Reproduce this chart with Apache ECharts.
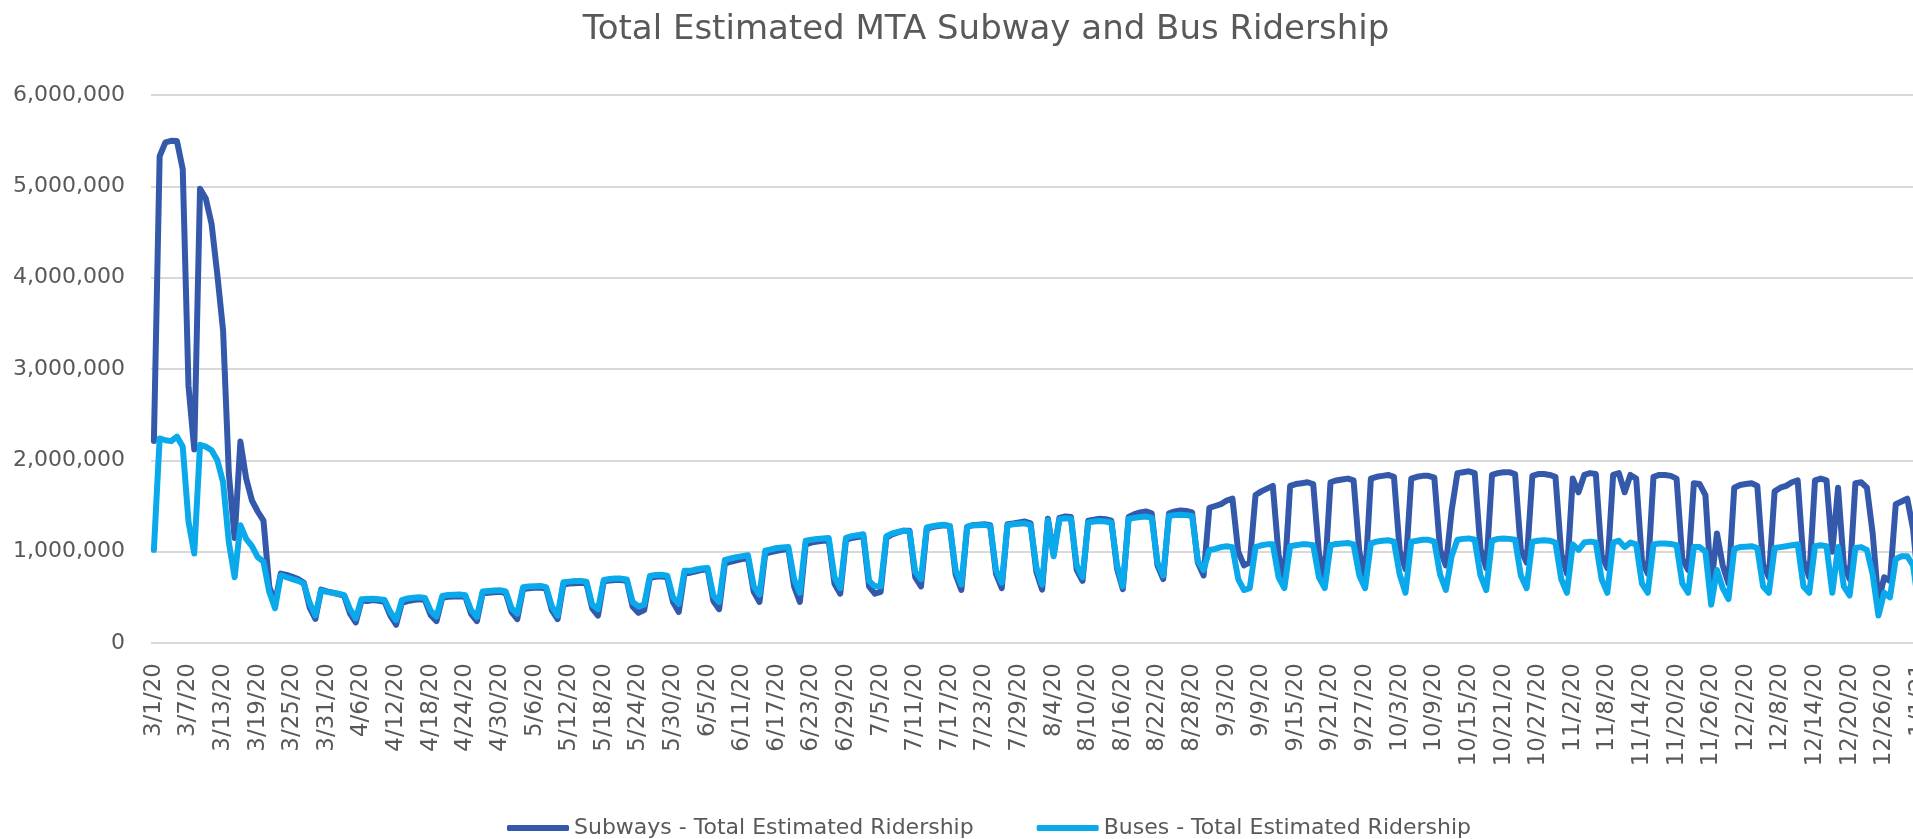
<!DOCTYPE html>
<html>
<head>
<meta charset="utf-8">
<title>Total Estimated MTA Subway and Bus Ridership</title>
<script src="https://cdn.jsdelivr.net/npm/echarts@6/dist/echarts.min.js"></script>
<style>
  html, body { margin: 0; padding: 0; background: #fff; overflow: hidden; }
  #chart { width: 1913px; height: 839px; }
</style>
</head>
<body>
<div id="chart"></div>
<script>
// daily dates from 3/1/20, shown as M/D/YY
const dates = [];
for (let d = new Date(2020, 2, 1); dates.length < 310; d.setDate(d.getDate() + 1)) {
  dates.push((d.getMonth() + 1) + '/' + d.getDate() + '/' + String(d.getFullYear()).slice(2));
}

// one row per week, Sunday .. Saturday
const subways = [
  2212000, 5330000, 5481000, 5498000, 5496000, 5189000, 2815000,
  2120000, 4973000, 4867000, 4588000, 4034000, 3420000, 1850000,
  1150000, 2205000, 1800000, 1560000, 1440000, 1340000, 620000,
  440000, 760000, 745000, 725000, 700000, 660000, 390000,
  265000, 585000, 565000, 550000, 535000, 515000, 325000,
  225000, 465000, 460000, 470000, 462000, 450000, 300000,
  200000, 440000, 458000, 470000, 478000, 470000, 305000,
  240000, 495000, 505000, 510000, 512000, 505000, 320000,
  240000, 545000, 550000, 555000, 560000, 548000, 340000,
  262000, 590000, 600000, 605000, 608000, 595000, 360000,
  262000, 640000, 650000, 655000, 660000, 650000, 380000,
  300000, 675000, 685000, 690000, 690000, 680000, 400000,
  330000, 360000, 715000, 725000, 730000, 720000, 450000,
  340000, 760000, 770000, 785000, 800000, 810000, 460000,
  370000, 870000, 890000, 905000, 920000, 930000, 560000,
  450000, 980000, 995000, 1010000, 1020000, 1030000, 620000,
  450000, 1080000, 1100000, 1110000, 1120000, 1120000, 650000,
  540000, 1130000, 1150000, 1160000, 1170000, 620000, 540000,
  560000, 1150000, 1190000, 1210000, 1230000, 1230000, 720000,
  620000, 1250000, 1270000, 1280000, 1290000, 1280000, 750000,
  580000, 1270000, 1290000, 1295000, 1300000, 1290000, 760000,
  600000, 1300000, 1310000, 1320000, 1330000, 1310000, 780000,
  585000, 1360000, 970000, 1370000, 1385000, 1380000, 800000,
  680000, 1340000, 1350000, 1360000, 1355000, 1340000, 810000,
  590000, 1380000, 1410000, 1430000, 1440000, 1420000, 850000,
  700000, 1420000, 1440000, 1450000, 1445000, 1430000, 880000,
  740000, 1480000, 1500000, 1520000, 1560000, 1580000, 1000000,
  850000, 880000, 1620000, 1660000, 1690000, 1720000, 960000,
  700000, 1720000, 1740000, 1750000, 1760000, 1740000, 980000,
  720000, 1760000, 1780000, 1790000, 1800000, 1780000, 1000000,
  700000, 1800000, 1820000, 1830000, 1840000, 1820000, 1010000,
  810000, 1800000, 1820000, 1830000, 1830000, 1810000, 1020000,
  850000, 1450000, 1860000, 1870000, 1880000, 1860000, 1030000,
  820000, 1840000, 1860000, 1870000, 1870000, 1850000, 1020000,
  880000, 1830000, 1850000, 1850000, 1840000, 1820000, 980000,
  760000, 1800000, 1650000, 1840000, 1860000, 1850000, 960000,
  820000, 1840000, 1860000, 1650000, 1840000, 1800000, 900000,
  760000, 1820000, 1840000, 1840000, 1830000, 1800000, 920000,
  800000, 1750000, 1740000, 1620000, 620000, 1200000, 850000,
  650000, 1700000, 1730000, 1740000, 1750000, 1720000, 860000,
  720000, 1660000, 1700000, 1720000, 1760000, 1780000, 900000,
  720000, 1780000, 1800000, 1780000, 1000000, 1700000, 850000,
  700000, 1750000, 1760000, 1700000, 1200000, 450000, 720000,
  680000, 1520000, 1550000, 1580000, 1250000, 600000, 750000
];

const buses = [
  1020000, 2240000, 2220000, 2210000, 2260000, 2150000, 1330000,
  980000, 2170000, 2150000, 2110000, 2000000, 1760000, 1100000,
  720000, 1290000, 1140000, 1060000, 940000, 890000, 560000,
  380000, 740000, 720000, 700000, 680000, 650000, 440000,
  300000, 575000, 560000, 550000, 540000, 525000, 370000,
  270000, 480000, 482000, 485000, 480000, 470000, 340000,
  250000, 470000, 488000, 495000, 500000, 492000, 350000,
  290000, 515000, 525000, 528000, 530000, 522000, 360000,
  285000, 565000, 570000, 575000, 578000, 565000, 380000,
  320000, 610000, 618000, 622000, 625000, 612000, 400000,
  300000, 665000, 672000, 678000, 680000, 670000, 420000,
  370000, 690000, 700000, 705000, 705000, 695000, 450000,
  400000, 420000, 735000, 745000, 748000, 738000, 500000,
  430000, 790000, 790000, 805000, 815000, 820000, 520000,
  450000, 910000, 925000, 940000, 950000, 960000, 620000,
  530000, 1010000, 1025000, 1040000, 1045000, 1050000, 700000,
  550000, 1120000, 1130000, 1140000, 1145000, 1150000, 720000,
  600000, 1150000, 1170000, 1180000, 1190000, 680000, 620000,
  620000, 1170000, 1200000, 1215000, 1230000, 1220000, 780000,
  700000, 1265000, 1280000, 1290000, 1295000, 1280000, 800000,
  640000, 1275000, 1290000, 1290000, 1295000, 1280000, 800000,
  660000, 1290000, 1300000, 1305000, 1310000, 1290000, 830000,
  640000, 1345000, 950000, 1355000, 1365000, 1360000, 850000,
  720000, 1320000, 1330000, 1335000, 1330000, 1320000, 850000,
  620000, 1360000, 1370000, 1380000, 1385000, 1370000, 880000,
  740000, 1390000, 1400000, 1405000, 1400000, 1390000, 900000,
  800000, 1020000, 1030000, 1050000, 1060000, 1050000, 700000,
  580000, 600000, 1050000, 1070000, 1080000, 1080000, 720000,
  600000, 1060000, 1070000, 1080000, 1080000, 1070000, 720000,
  600000, 1070000, 1085000, 1090000, 1095000, 1080000, 740000,
  600000, 1090000, 1110000, 1120000, 1125000, 1110000, 750000,
  550000, 1110000, 1120000, 1130000, 1130000, 1110000, 750000,
  580000, 950000, 1130000, 1140000, 1145000, 1130000, 740000,
  580000, 1120000, 1140000, 1145000, 1140000, 1130000, 740000,
  600000, 1110000, 1120000, 1125000, 1120000, 1100000, 700000,
  550000, 1080000, 1020000, 1100000, 1110000, 1100000, 700000,
  550000, 1100000, 1120000, 1050000, 1100000, 1080000, 650000,
  550000, 1080000, 1090000, 1090000, 1085000, 1070000, 650000,
  550000, 1050000, 1050000, 1000000, 420000, 800000, 600000,
  480000, 1030000, 1050000, 1055000, 1060000, 1040000, 620000,
  550000, 1040000, 1050000, 1060000, 1070000, 1080000, 620000,
  550000, 1060000, 1070000, 1060000, 550000, 1050000, 620000,
  520000, 1040000, 1050000, 1020000, 750000, 300000, 550000,
  500000, 920000, 950000, 950000, 850000, 400000, 550000
];

const yTicks = [0, 1000000, 2000000, 3000000, 4000000, 5000000, 6000000];

const font = 'DejaVu Sans';
const grey = '#595959';

let option = {
  animation: false,
  backgroundColor: '#fff',
  title: {
    text: 'Total Estimated MTA Subway and Bus Ridership',
    left: 981,
    top: 8,
    textAlign: 'center',
    textStyle: { fontFamily: font, fontSize: 34, fontWeight: 'normal', color: grey }
  },
  legend: {
    left: 502,
    top: 812,
    itemGap: 63,
    itemWidth: 62,
    itemHeight: 6,
    icon: 'roundRect',
    textStyle: { fontFamily: font, fontSize: 22, color: grey },
    data: ['Subways - Total Estimated Ridership', 'Buses - Total Estimated Ridership']
  },
  grid: {
    left: 151,
    top: 95,
    height: 548,
    width: 1788,
    containLabel: false,
    outerBoundsMode: 'none'
  },
  xAxis: {
    type: 'category',
    data: dates,
    boundaryGap: true,
    axisLine: { show: false },
    axisTick: { show: false },
    axisLabel: {
      interval: 5,
      rotate: 90,
      margin: 20,
      fontFamily: font,
      fontSize: 23,
      color: grey
    }
  },
  yAxis: {
    type: 'value',
    min: yTicks[0],
    max: yTicks[yTicks.length - 1],
    interval: 1000000,
    axisLine: { show: false },
    axisTick: { show: false },
    axisLabel: {
      margin: 26,
      fontFamily: font,
      fontSize: 22,
      color: grey,
      formatter: v => v.toLocaleString('en-US')
    },
    splitLine: { lineStyle: { color: '#d9d9d9', width: 2 } }
  },
  series: [
    {
      name: 'Subways - Total Estimated Ridership',
      type: 'line',
      data: subways,
      showSymbol: false,
      color: '#3559aa',
      lineStyle: { width: 6, color: '#3559aa', cap: 'round', join: 'round' }
    },
    {
      name: 'Buses - Total Estimated Ridership',
      type: 'line',
      data: buses,
      showSymbol: false,
      color: '#0aa9ec',
      lineStyle: { width: 6, color: '#0aa9ec', cap: 'round', join: 'round' }
    }
  ]
};

let myChart = echarts.init(document.getElementById('chart'));
myChart.setOption(option);
</script>
</body>
</html>
